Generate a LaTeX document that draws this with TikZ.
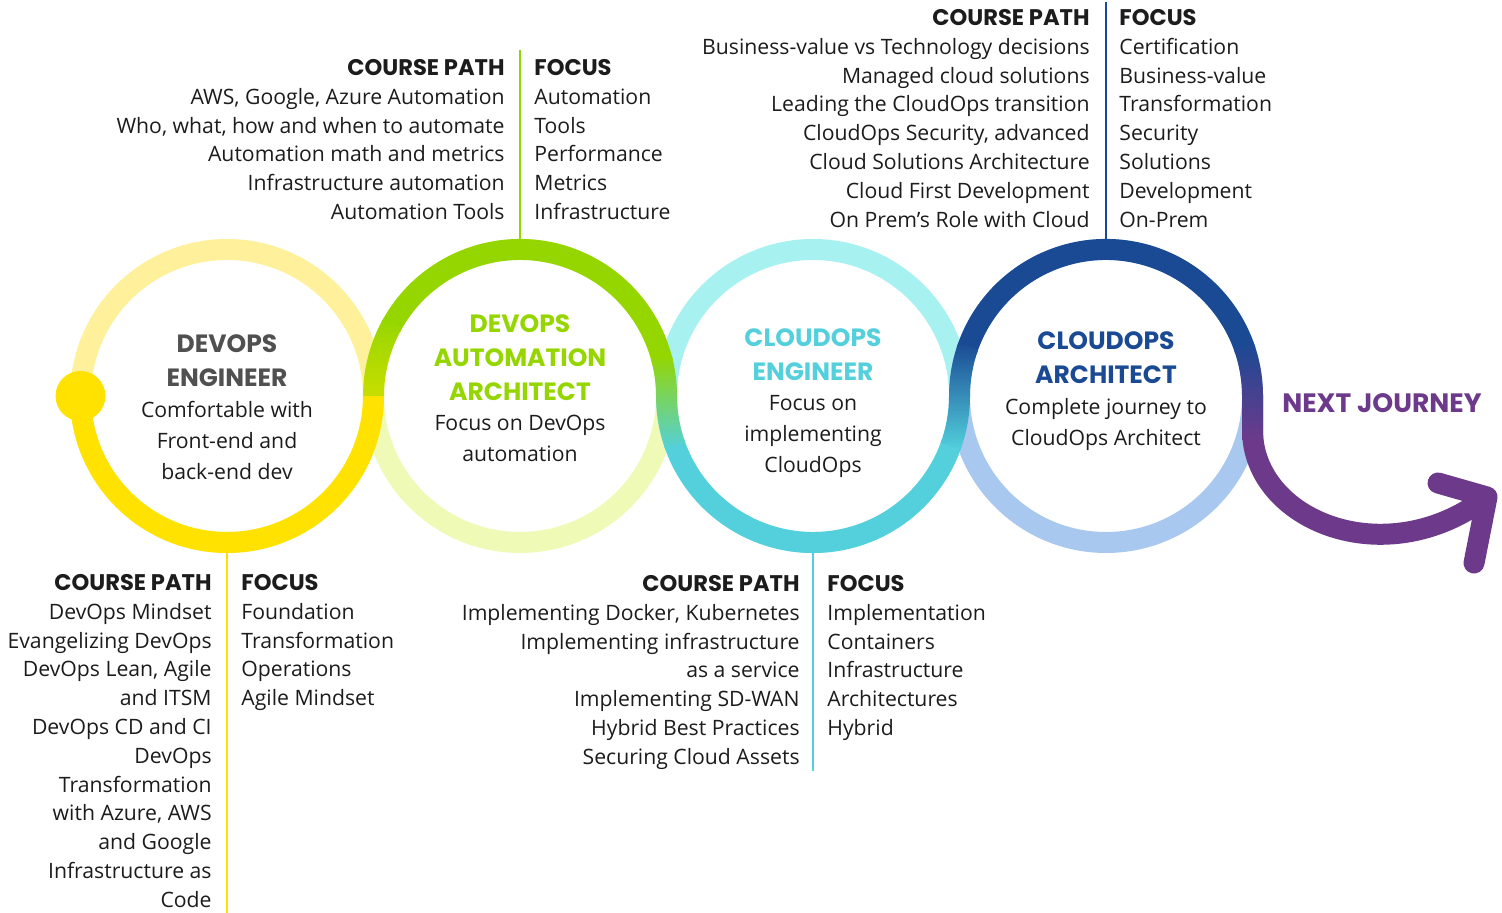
\documentclass[tikz,border=0pt]{standalone}
\usepackage{fontspec}
\setmainfont{Open Sans}
\newfontfamily\headfont{Poppins}
\usetikzlibrary{positioning}

\definecolor{yelDark}{HTML}{FFE200}
\definecolor{yelLight}{HTML}{FFF09C}
\definecolor{grnDark}{HTML}{95D600}
\definecolor{grnLight}{HTML}{EFFAB6}
\definecolor{limeMix}{HTML}{C8DE00}
\definecolor{cyaDark}{HTML}{53D0DC}
\definecolor{cyaLight}{HTML}{A8F1F1}
\definecolor{bluDark}{HTML}{1A4A94}
\definecolor{bluLight}{HTML}{A8C8EF}
\definecolor{purp}{HTML}{6D3A8B}
\definecolor{ttlGray}{HTML}{505050}
\definecolor{txt}{HTML}{1C1C1C}

\newcommand{\hdr}[1]{{\headfont\bfseries\fontsize{11.3}{14.4}\selectfont #1}}

\tikzset{
  ring/.style={circle, minimum size=146.5pt, inner sep=0pt, line width=10.5pt},
  dark/.style={line width=10.5pt},
  vline/.style={line width=1.3pt},
  ttl/.style={font=\headfont\bfseries\fontsize{12.5}{17}\selectfont, align=center, inner sep=0pt, anchor=north},
  body/.style={font=\fontsize{10.6}{15.5}\selectfont, text=txt, align=center, inner sep=0pt},
  cpath/.style={font=\fontsize{10.6}{14.4}\selectfont, text=txt, align=right, inner sep=0pt, anchor=north east},
  focus/.style={font=\fontsize{10.6}{14.4}\selectfont, text=txt, align=left, inner sep=0pt, anchor=north west}
}

\begin{document}
\begin{tikzpicture}[x=0.5pt,y=0.5pt]
  \useasboundingbox (0,0) rectangle (1502,913);
  %%%%% RINGS %%%%%
  \node[ring, draw=yelLight] (c1) at (227,517) {};
  \node[ring, draw=grnLight] (c2) at (520,517) {};
  \node[ring, draw=cyaLight] (c3) at (813,517) {};
  \node[ring, draw=bluLight] (c4) at (1106,517) {};

  %%%%% JOURNEY PATH %%%%%
  \coordinate (a0) at (1252.5,517);
  \coordinate (tip) at (1487,416);
  \draw[dark, purp] (a0) -- ++(0,-34) .. controls (1252.5,393) and (1385,338) .. (tip);
  \draw[dark, purp, line cap=round, line join=round] (1438,430) -- (tip) -- (1474,350);

  \draw[dark, yelDark] (c1.center) ++(180:146.5) arc (180:360:146.5);
  \draw[dark, grnDark] (c2.center) ++(152:146.5) arc (152:13:146.5);
  \draw[dark, cyaDark] (c3.center) ++(198:146.5) arc (198:342:146.5);
  \draw[dark, bluDark] (c4.center) ++(162:146.5) arc (162:18:146.5);

  % colour changes
  \shade[bottom color=limeMix, top color=grnDark]
    ([shift={(c2.center)}]180:157) arc (180:150:157) -- ([shift={(c2.center)}]150:136) arc (150:180:136) -- cycle;
  \shade[top color=grnDark, bottom color=cyaDark]
    ([shift={(c2.center)}]15:157) arc (15:0:157) arc (180:200:136)
    -- ([shift={(c3.center)}]200:157) arc (200:180:157) arc (0:15:136) -- cycle;
  \shade[top color=bluDark, bottom color=cyaDark]
    ([shift={(c3.center)}]340:157) arc (340:360:157) arc (180:160:136)
    -- ([shift={(c4.center)}]160:157) arc (160:180:157) arc (360:340:136) -- cycle;
  \shade[top color=bluDark, bottom color=purp]
    ([shift={(c4.center)}]20:157) arc (20:0:157) -- ++(0,-44) -- ++(-21,0) -- ++(0,44) arc (0:20:136) -- cycle;

  \fill[yelDark] (c1.center) ++(-146.5,0) circle (25);

  %%%%% LEADER LINES %%%%%
  \coordinate (l1) at (227,0);
  \coordinate (l2) at (520,863);
  \coordinate (l3) at (813,142);
  \coordinate (l4) at (1106,911);
  \draw[vline, yelDark] (c1.south) -- (l1);
  \draw[vline, grnDark] (c2.north) -- (l2);
  \draw[vline, cyaDark] (c3.south) -- (l3);
  \draw[vline, bluDark] (c4.north) -- (l4);

  %%%%% CIRCLE TEXT %%%%%
  \node[ttl, text=ttlGray, yshift=31pt] (t1) at (c1.center) {DEVOPS\\ENGINEER};
  \node[body, below=7pt of t1] (b1) {Comfortable with\\Front-end and\\back-end dev};
  \node[ttl, text=grnDark, yshift=41pt] (t2) at (c2.center) {DEVOPS\\AUTOMATION\\ARCHITECT};
  \node[body, below=7pt of t2] (b2) {Focus on DevOps\\automation};
  \node[ttl, text=cyaDark, yshift=34pt] (t3) at (c3.center) {CLOUDOPS\\ENGINEER};
  \node[body, below=7pt of t3] (b3) {Focus on\\implementing\\CloudOps};
  \node[ttl, text=bluDark, yshift=32.5pt] (t4) at (c4.center) {CLOUDOPS\\ARCHITECT};
  \node[body, below=7pt of t4] (b4) {Complete journey to\\CloudOps Architect};
  \node[ttl, anchor=center, text=purp, font=\headfont\bfseries\fontsize{13.3}{17}\selectfont] (nxt) at (1382,510) {NEXT JOURNEY};

  %%%%% COURSE PATH / FOCUS %%%%%
  \node[cpath] (cp1) at (212,339) {\hdr{COURSE PATH}\\DevOps Mindset\\Evangelizing DevOps\\DevOps Lean, Agile\\and ITSM\\DevOps CD and CI\\DevOps\\Transformation\\with Azure, AWS\\and Google\\Infrastructure as\\Code};
  \node[focus] (fc1) at (241,339) {\hdr{FOCUS}\\Foundation\\Transformation\\Operations\\Agile Mindset};

  \node[cpath] (cp2) at (505,854) {\hdr{COURSE PATH}\\AWS, Google, Azure Automation\\Who, what, how and when to automate\\Automation math and metrics\\Infrastructure automation\\Automation Tools};
  \node[focus] (fc2) at (534,854) {\hdr{FOCUS}\\Automation\\Tools\\Performance\\Metrics\\Infrastructure};

  \node[cpath] (cp3) at (800,338) {\hdr{COURSE PATH}\\Implementing Docker, Kubernetes\\Implementing infrastructure\\as a service\\Implementing SD-WAN\\Hybrid Best Practices\\Securing Cloud Assets};
  \node[focus] (fc3) at (827,338) {\hdr{FOCUS}\\Implementation\\Containers\\Infrastructure\\Architectures\\Hybrid};

  \node[cpath] (cp4) at (1090,904) {\hdr{COURSE PATH}\\Business-value vs Technology decisions\\Managed cloud solutions\\Leading the CloudOps transition\\CloudOps Security, advanced\\Cloud Solutions Architecture\\Cloud First Development\\On Prem’s Role with Cloud};
  \node[focus] (fc4) at (1119,904) {\hdr{FOCUS}\\Certification\\Business-value\\Transformation\\Security\\Solutions\\Development\\On-Prem};
\end{tikzpicture}
\end{document}
